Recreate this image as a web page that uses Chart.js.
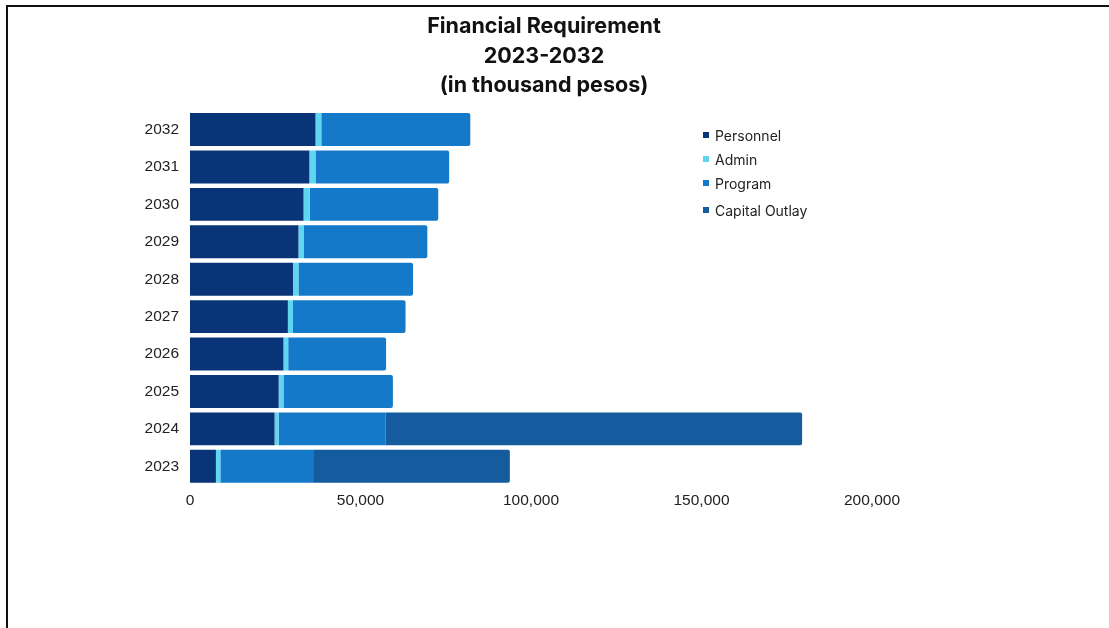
<!DOCTYPE html>
<html>
<head>
<meta charset="utf-8">
<script src="https://cdn.jsdelivr.net/npm/chart.js"></script>
<style>
  html, body { margin: 0; padding: 0; background: #fff; }
  body { width: 1109px; height: 628px; position: relative; overflow: hidden; }
  #frame {
    position: absolute; left: 6px; top: 5px; width: 1120px; height: 640px;
    border-top: 2px solid #111; border-left: 2px solid #111;
  }
  #chart { position: absolute; left: 8px; top: 8px; }
  #legend {
    position: absolute; left: 703px; top: 123px;
    font-family: Inter, "Noto Sans", sans-serif; font-size: 14px; color: #222;
  }
  #legend .item { display: flex; align-items: center; height: 24px; }
  #legend .item:last-child { margin-top: 3px; }
  #legend .box { width: 6px; height: 6px; margin-right: 6px; }
</style>
</head>
<body>
<div id="frame"></div>
<canvas id="chart" width="1072" height="620"></canvas>
<div id="legend"></div>
<script>
// values in thousand pesos
const years = ["2023", "2024", "2025", "2026", "2027", "2028", "2029", "2030", "2031", "2032"];
const personnel = [7600, 24800, 26000, 27400, 28700, 30200, 31800, 33300, 35000, 36800];
const admin = [1300, 1200, 1400, 1400, 1500, 1600, 1500, 1800, 1800, 1700];
const program = [27200, 31300, 32100, 28700, 33000, 33600, 36300, 37700, 39200, 43700];
const capitalOutlay = [57700, 122200, 0, 0, 0, 0, 0, 0, 0, 0];

const xTicks = [0, 50000, 100000, 150000, 200000];

const colors = {
  personnel: "#0a3478",
  admin: "#5ed6f2",
  program: "#1479c8",
  capital: "#145c9e"
};

const tickFont = { family: "'Liberation Sans', Arial, sans-serif", size: 15.5 };

// the title is centred on the whole canvas, not on the padded plot
const centerTitle = {
  id: "centerTitle",
  afterLayout(chart) {
    const t = chart.titleBlock;
    if (t) {
      t.left = 0;
      t.right = chart.width;
      t.width = chart.width;
    }
  }
};

const chart = new Chart(document.getElementById("chart"), {
  type: "bar",
  data: {
    labels: years,
    datasets: [
      { label: "Personnel", data: personnel, backgroundColor: colors.personnel },
      { label: "Admin", data: admin, backgroundColor: colors.admin },
      { label: "Program", data: program, backgroundColor: colors.program },
      { label: "Capital Outlay", data: capitalOutlay, backgroundColor: colors.capital }
    ]
  },
  options: {
    indexAxis: "y",
    responsive: false,
    animation: false,
    devicePixelRatio: 1,
    datasets: {
      bar: { categoryPercentage: 1, barPercentage: 0.88, borderRadius: 2, borderSkipped: "start" }
    },
    layout: { padding: { left: 0, right: 208, top: 0, bottom: 113 } },
    plugins: {
      legend: { display: false },
      tooltip: { enabled: false },
      title: {
        display: true,
        text: ["Financial Requirement", "2023-2032", "(in thousand pesos)"],
        color: "#111",
        font: { family: "Inter, 'Noto Sans', sans-serif", size: 21.5, weight: "bold", lineHeight: 1.37 },
        padding: { top: 4, bottom: 10.5 }
      }
    },
    scales: {
      x: {
        stacked: true,
        min: 0,
        max: 200000,
        afterBuildTicks: scale => { scale.ticks = xTicks.map(v => ({ value: v })); },
        grid: { display: false, drawTicks: false },
        border: { display: false },
        ticks: { color: "#222", font: tickFont, padding: 6, maxRotation: 0 },
        afterFit: scale => { scale.height = 30; }
      },
      y: {
        stacked: true,
        reverse: true,
        grid: { display: false, drawTicks: false },
        border: { display: false },
        ticks: { color: "#222", font: tickFont, padding: 11 },
        afterFit: scale => { scale.width = 182; }
      }
    }
  },
  plugins: [centerTitle]
});

// legend sits inside the plot, to the right of the short bars
const legendEl = document.getElementById("legend");
chart.data.datasets.forEach(ds => {
  const item = document.createElement("div");
  item.className = "item";
  const box = document.createElement("span");
  box.className = "box";
  box.style.background = ds.backgroundColor;
  const txt = document.createElement("span");
  txt.textContent = ds.label;
  item.appendChild(box);
  item.appendChild(txt);
  legendEl.appendChild(item);
});
</script>
</body>
</html>
